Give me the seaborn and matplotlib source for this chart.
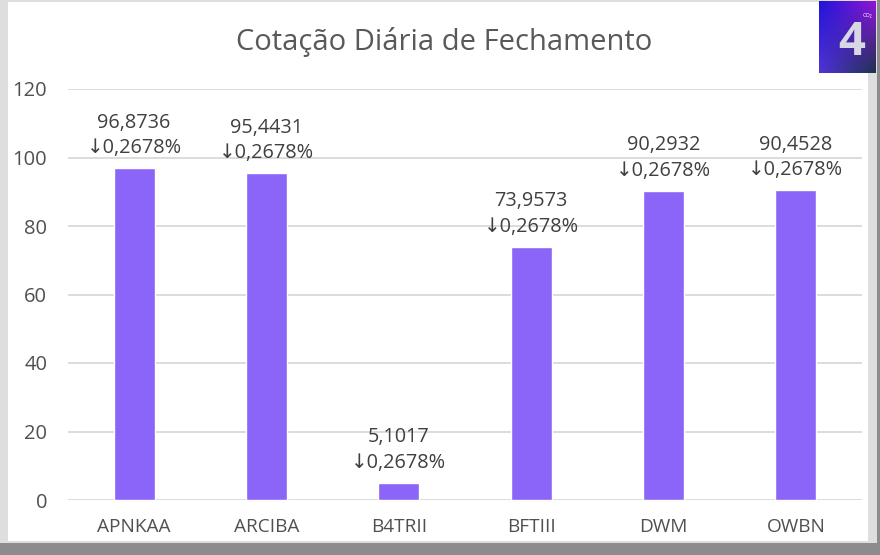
import numpy as np
import pandas as pd
import matplotlib
matplotlib.use("Agg")
import matplotlib.pyplot as plt
import seaborn as sns
from matplotlib.patches import Rectangle

tickers = ["APNKAA", "ARCIBA", "B4TRII", "BFTIII", "DWM", "OWBN"]
closing = [96.8736, 95.4431, 5.1017, 73.9573, 90.2932, 90.4528]
change_pct = [-0.2678, -0.2678, -0.2678, -0.2678, -0.2678, -0.2678]

df = pd.DataFrame({"ticker": tickers, "close": closing, "change": change_pct})

sns.set_theme(style="white")
plt.rcParams["font.family"] = ["Open Sans", "DejaVu Sans"]

text_col = "#595959"
bar_col = "#8B64F8"

fig = plt.figure(figsize=(8.8, 5.55), dpi=100)
fig.patch.set_facecolor("white")

# picture frame with bevel and shadow
fig.patches.append(Rectangle((0, 0), 1, 1, transform=fig.transFigure,
                             facecolor="#8c8c8c", edgecolor="none", zorder=-3))
fig.patches.append(Rectangle((0, 12 / 555), 877 / 880, 1 - 12 / 555, transform=fig.transFigure,
                             facecolor="#dedede", edgecolor="none", zorder=-2))
fig.patches.append(Rectangle((8 / 880, 14 / 555), 860 / 880, 1 - 16 / 555, transform=fig.transFigure,
                             facecolor="white", edgecolor="none", zorder=-1))

ax = fig.add_axes([68 / 880, 55 / 555, 794 / 880, 411 / 555])
sns.barplot(data=df, x="ticker", y="close", color=bar_col, saturation=1,
            width=0.31, ax=ax)
ax.set_facecolor("none")
ax.set_ylim(0, 120)
ax.set_yticks(range(0, 121, 20))
ax.yaxis.grid(True, color="#d9d9d9", linewidth=1.3)
ax.set_axisbelow(True)
for s in ax.spines.values():
    s.set_visible(False)
ax.set_xlabel("")
ax.set_ylabel("")
ax.tick_params(axis="y", length=0, labelsize=14.5, colors="#505050", pad=15)
ax.tick_params(axis="x", length=0, labelsize=13.7, colors="#505050", pad=13)

for i, (v, c) in enumerate(zip(closing, change_pct)):
    arrow = "\u2193" if c < 0 else "\u2191"
    txt = f"{v:.4f}".replace(".", ",") + "\n" + arrow + f"{abs(c):.4f}".replace(".", ",") + "%"
    ax.annotate(txt, (i, v), xytext=(0, 7), textcoords="offset points",
                ha="center", va="bottom", fontsize=14.3, color="#404040",
                linespacing=1.38)

fig.text(444 / 880, 1 - 42 / 555, "Cotação Diária de Fechamento", ha="center", va="center",
         fontsize=21, color=text_col)

# logo in the top right corner
logo = fig.add_axes([819 / 880, 1 - 73 / 555, 57 / 880, 72 / 555])
yy, xx = np.mgrid[0:1:60j, 0:1:50j]
rgb = np.dstack([0.12 + 0.45 * xx * (1 - yy) + 0.2 * yy * (1 - xx),
                 0.08 + 0.12 * yy,
                 0.30 + 0.55 * (1 - xx * yy)])
logo.imshow(np.clip(rgb, 0, 1), aspect="auto", extent=(0, 1, 0, 1))
logo.text(0.58, 0.42, "4", ha="center", va="center", fontsize=34, fontweight="bold",
          color="#d8d8e4", transform=logo.transAxes)
logo.text(0.85, 0.8, "CO₂", ha="center", va="center", fontsize=4,
          color="white", transform=logo.transAxes)
logo.axis("off")

fig.savefig("out.png", dpi=100, facecolor=fig.get_facecolor())
